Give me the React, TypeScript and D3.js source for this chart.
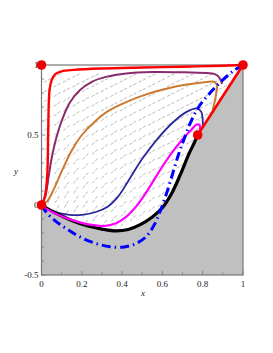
import React from "react";
import * as d3 from "d3";

type P = [number, number];

const xTicks = [0, 0.2, 0.4, 0.6, 0.8, 1];
const xTickLabels = ["0", "0.2", "0.4", "0.6", "0.8", "1"];
const yTicks = [-0.5, 0, 0.5, 1];
const yTickLabels = ["-0.5", "0", "0.5", "1"];

const redCurve: P[] = [[0, 0], [0.015, 0.05], [0.028, 0.2], [0.033, 0.5], [0.036, 0.72], [0.04, 0.82], [0.05, 0.89], [0.068, 0.935], [0.1, 0.955], [0.16, 0.965], [0.3, 0.975], [0.5, 0.982], [0.7, 0.988], [0.9, 0.995], [1, 1]];
const purpleCurve: P[] = [[0, 0], [0.02, 0.07], [0.035, 0.2], [0.05, 0.33], [0.07, 0.46], [0.1, 0.6], [0.14, 0.73], [0.19, 0.82], [0.25, 0.88], [0.32, 0.915], [0.42, 0.94], [0.55, 0.95], [0.7, 0.948], [0.82, 0.942], [0.86, 0.935], [0.88, 0.915], [0.895, 0.87]];
const orangeCurve: P[] = [[0, 0], [0.03, 0.03], [0.06, 0.11], [0.1, 0.24], [0.15, 0.39], [0.2, 0.5], [0.26, 0.59], [0.33, 0.67], [0.42, 0.735], [0.52, 0.79], [0.62, 0.83], [0.72, 0.86], [0.8, 0.875], [0.855, 0.88], [0.87, 0.86], [0.865, 0.78], [0.85, 0.68]];
const navyCurve: P[] = [[0, 0], [0.06, -0.045], [0.13, -0.068], [0.2, -0.07], [0.27, -0.05], [0.33, -0.01], [0.38, 0.06], [0.43, 0.17], [0.5, 0.33], [0.58, 0.48], [0.66, 0.6], [0.72, 0.665], [0.77, 0.69], [0.793, 0.665], [0.8, 0.61], [0.8, 0.56]];
const magentaCurve: P[] = [[0, 0], [0.04, -0.04], [0.1, -0.08], [0.17, -0.115], [0.24, -0.14], [0.31, -0.15], [0.37, -0.13], [0.42, -0.085], [0.47, -0.01], [0.52, 0.09], [0.58, 0.23], [0.64, 0.36], [0.7, 0.47], [0.745, 0.54], [0.77, 0.575], [0.785, 0.57], [0.785, 0.53]];
const blackCurve: P[] = [[0, 0], [0.06, -0.05], [0.15, -0.11], [0.23, -0.15], [0.3, -0.172], [0.37, -0.185], [0.43, -0.175], [0.49, -0.14], [0.55, -0.085], [0.6, -0.02], [0.645, 0.08], [0.69, 0.22], [0.73, 0.36], [0.76, 0.45], [0.775, 0.5]];
const separatrix: P[] = [[0.775, 0.5], [1, 1]];
const blueCurve: P[] = [[0, 0], [0.025, -0.055], [0.07, -0.115], [0.13, -0.175], [0.2, -0.235], [0.27, -0.275], [0.34, -0.298], [0.41, -0.3], [0.47, -0.275], [0.52, -0.225], [0.56, -0.14], [0.59, -0.04], [0.62, 0.08], [0.65, 0.22], [0.68, 0.36], [0.71, 0.48], [0.74, 0.59], [0.78, 0.7], [0.83, 0.79], [0.89, 0.88], [0.95, 0.955], [1, 1]];
const equilibria: P[] = [[0, 1], [0, 0], [1, 1], [0.775, 0.5]];

const W = 273, H = 353;
const x = d3.scaleLinear().domain([0, 1]).range([41.5, 243]);
const y = d3.scaleLinear().domain([-0.5, 1]).range([275, 65]);

const smooth = d3.line<P>().x(d => x(d[0])).y(d => y(d[1])).curve(d3.curveCatmullRom.alpha(0.5));
const straight = d3.line<P>().x(d => x(d[0])).y(d => y(d[1]));

// gray (excluded) region: below black curve and right of separatrix
const grayPoly: P[] = [...blackCurve, [1, 1], [1, -0.5], [0, -0.5]];
const grayPx = grayPoly.map(p => [x(p[0]), y(p[1])] as [number, number]);

// slope field direction (screen angle, degrees upward)
function fieldAngle(px: number, py: number): number {
  return 24 + 42 * (1 - py) * (1 - px) * (1 - px * 0.3);
}

const fieldPts: { cx: number; cy: number; a: number }[] = [];
for (let i = 0; i <= 21; i++) {
  for (let j = 0; j <= 22; j++) {
    const px = 0.03 + i * 0.047;
    const py = -0.47 + j * 0.068 + (i % 2) * 0.034;
    if (py > 0.955 || px > 0.99) continue;
    const sx = x(px), sy = y(py);
    if (d3.polygonContains(grayPx, [sx, sy])) continue;
    fieldPts.push({ cx: sx, cy: sy, a: fieldAngle(px, py) });
  }
}

export default function App() {
  const font = "'Liberation Serif', 'DejaVu Serif', serif";
  const minorX = d3.range(0, 1.001, 0.1);
  const minorY = d3.range(-0.5, 1.001, 0.1);
  return (
    <svg width={W} height={H} style={{ position: "absolute", left: 0, top: 0, background: "#fff" }}>
      <path d={straight(grayPoly) + "Z"} fill="#c0c0c0" stroke="none" />
      <g stroke="#b2b2b2" strokeWidth={0.9}>
        {fieldPts.map((f, k) => {
          const r = (f.a * Math.PI) / 180;
          const L = 4;
          const dx = Math.cos(r) * L, dy = Math.sin(r) * L;
          return <line key={k} x1={f.cx - dx} y1={f.cy + dy} x2={f.cx + dx} y2={f.cy - dy} strokeDasharray="3.3,1.4" />;
        })}
      </g>
      <rect x={x(0)} y={y(1)} width={x(1) - x(0)} height={y(-0.5) - y(1)} fill="none" stroke="#777" strokeWidth={1.2} />
      <g stroke="#777" strokeWidth={0.8}>
        {minorX.map((t, k) => (
          <line key={"mx" + k} x1={x(t)} x2={x(t)} y1={y(-0.5)} y2={y(-0.5) - (k % 2 === 0 ? 4 : 2.5)} />
        ))}
        {minorY.map((t, k) => (
          <line key={"my" + k} x1={x(0)} x2={x(0) + (k % 5 === 0 ? 4 : 2.5)} y1={y(t)} y2={y(t)} />
        ))}
      </g>
      <g fontFamily={font} fontSize={9} fill="#222">
        {xTicks.map((t, k) => (
          <text key={"xt" + k} x={x(t)} y={287} textAnchor="middle">{xTickLabels[k]}</text>
        ))}
        {yTicks.map((t, k) => (
          <text key={"yt" + k} x={x(0) - 3} y={y(t) + 3} textAnchor="end">{yTickLabels[k]}</text>
        ))}
        <text x={143} y={296} fontStyle="italic" textAnchor="middle">x</text>
        <text x={16} y={174} fontStyle="italic" textAnchor="middle">y</text>
      </g>
      <g fill="none" strokeLinecap="round" strokeLinejoin="round">
        <path d={smooth(purpleCurve)!} stroke="#8a2a6e" strokeWidth={2} />
        <path d={smooth(orangeCurve)!} stroke="#cc7a30" strokeWidth={2} />
        <path d={smooth(navyCurve)!} stroke="#28289a" strokeWidth={1.8} />
        <path d={smooth(blackCurve)!} stroke="#000" strokeWidth={3.2} />
        <path d={smooth(magentaCurve)!} stroke="#ff00ff" strokeWidth={2.2} />
        <path d={smooth(redCurve)!} stroke="#ff0000" strokeWidth={2.4} />
        <path d={straight(separatrix)!} stroke="#ff0000" strokeWidth={2.6} />
        <path d={smooth(blueCurve)!} stroke="#0000ff" strokeWidth={3} strokeDasharray="9,4,1.5,4" strokeLinecap="butt" />
      </g>
      <g fill="#ee0000">
        {equilibria.map((p, k) => (
          <circle key={"e" + k} cx={x(p[0])} cy={y(p[1])} r={4.8} />
        ))}
      </g>
    </svg>
  );
}
